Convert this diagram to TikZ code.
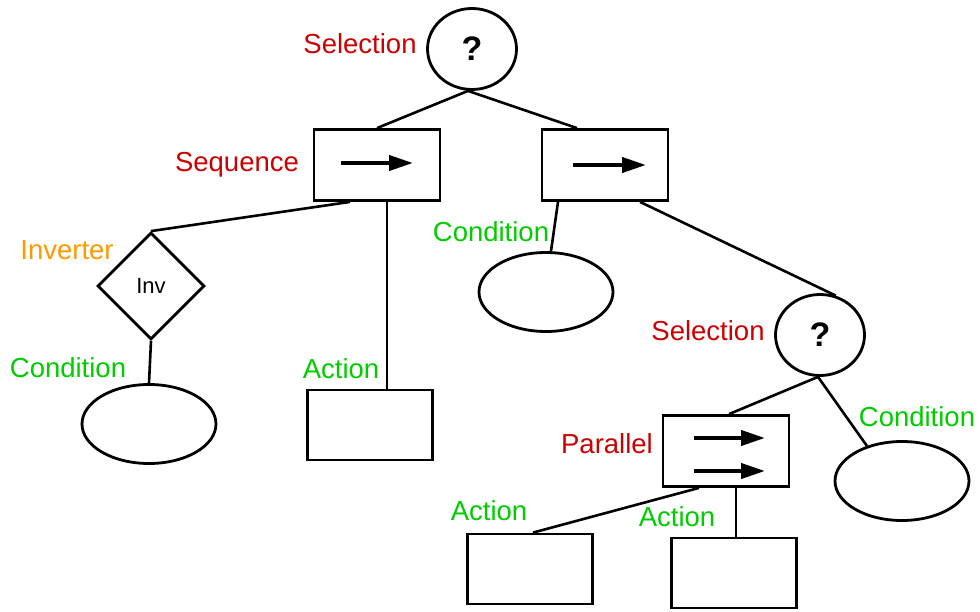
\documentclass[tikz,border=0pt]{standalone}
\usepackage{fontspec}
\setmainfont{Liberation Sans}
\usepackage{tikz}
\usetikzlibrary{positioning}
\usetikzlibrary{shapes.geometric}
\usetikzlibrary{arrows.meta}
\definecolor{selred}{RGB}{204,0,0}
\definecolor{condgreen}{RGB}{0,204,0}
\definecolor{invorange}{RGB}{255,153,0}
\tikzset{
  shapeline/.style={draw, line width=2.8pt, inner sep=0pt},
  selnode/.style={shapeline, ellipse, minimum width=89pt, minimum height=81pt,
    font=\fontsize{34}{38}\selectfont\bfseries},
  seqbox/.style={shapeline, rectangle, minimum width=126pt, minimum height=71pt},
  actbox/.style={shapeline, rectangle, minimum width=125pt, minimum height=70pt},
  condnode/.style={shapeline, ellipse, minimum width=134pt, minimum height=79pt},
  invnode/.style={shapeline, diamond, minimum width=107pt, minimum height=107pt,
    font=\fontsize{22}{26}\selectfont},
  tag/.style={inner sep=0pt, font=\fontsize{27.5}{33}\selectfont},
  edge/.style={line width=2.6pt},
  flow/.style={line width=4pt, -{Triangle[length=24pt,width=15pt]}}
}
\begin{document}
\begin{tikzpicture}[x=1pt,y=-1pt]
\useasboundingbox (0,0) rectangle (980,612);
% nodes
\node[selnode] (sel1) at (472,49) {?};
\node[seqbox] (seq1) at (377,165) {};
\node[seqbox] (seq2) at (605,165) {};
\node[invnode] (inv) at (151,286) {Inv};
\node[condnode] (cond1) at (149,424) {};
\node[actbox] (act1) at (370,425) {};
\node[condnode] (cond2) at (546,292) {};
\node[selnode] (sel2) at (820,335) {?};
\node[seqbox] (par) at (726,451) {};
\node[condnode] (cond3) at (902,481) {};
\node[actbox] (act2) at (530,569) {};
\node[actbox] (act3) at (734,573) {};
% labels
\node[tag, text=selred] (tsel1) at (360,44) {Selection};
\node[tag, text=selred] (tseq1) at (237,165) {Sequence};
\node[tag, text=invorange] (tinv) at (67,250) {Inverter};
\node[tag, text=condgreen] (tcond1) at (68,368) {Condition};
\node[tag, text=condgreen] (tact1) at (341,369) {Action};
\node[tag, text=condgreen] (tcond2) at (491,232) {Condition};
\node[tag, text=selred] (tsel2) at (708,331) {Selection};
\node[tag, text=condgreen] (tcond3) at (917,417) {Condition};
\node[tag, text=selred] (tpar) at (607,444) {Parallel};
\node[tag, text=condgreen] (tact2) at (489,511) {Action};
\node[tag, text=condgreen] (tact3) at (677,517) {Action};
% arrows inside the boxes
\draw[flow] ([xshift=-36pt,yshift=2pt]seq1.center) -- ([xshift=36pt,yshift=2pt]seq1.center);
\draw[flow] ([xshift=-32pt]seq2.center) -- ([xshift=41pt]seq2.center);
\draw[flow] ([xshift=-32pt,yshift=13pt]par.center) -- ([xshift=39pt,yshift=13pt]par.center);
\draw[flow] ([xshift=-32pt,yshift=-20pt]par.center) -- ([xshift=39pt,yshift=-20pt]par.center);
% connectors
\draw[edge] ([xshift=-4pt]sel1.south) -- (seq1.north);
\draw[edge] ([xshift=-4pt]sel1.south) -- ([xshift=-28pt]seq2.north);
\draw[edge] ([xshift=-27pt]seq1.south) -- (inv.north);
\draw[edge] ([xshift=10pt]seq1.south) -- ([xshift=10pt]seq1.south |- act1.north);
\draw[edge] (inv.south) -- (cond1.north);
\draw[edge] ([xshift=-47pt]seq2.south) -- ([xshift=5pt]cond2.north);
\draw[edge] ([xshift=35pt]seq2.south) -- (sel2.68);
\draw[edge] ([xshift=-2pt]sel2.south) -- ([xshift=3pt]par.north);
\draw[edge] ([xshift=-2pt]sel2.south) -- (cond3.135);
\draw[edge] ([xshift=-27pt]par.south) -- ([xshift=3pt]act2.north);
\draw[edge] ([xshift=10pt]par.south) -- ([xshift=10pt]par.south |- act3.north);
\end{tikzpicture}
\end{document}
